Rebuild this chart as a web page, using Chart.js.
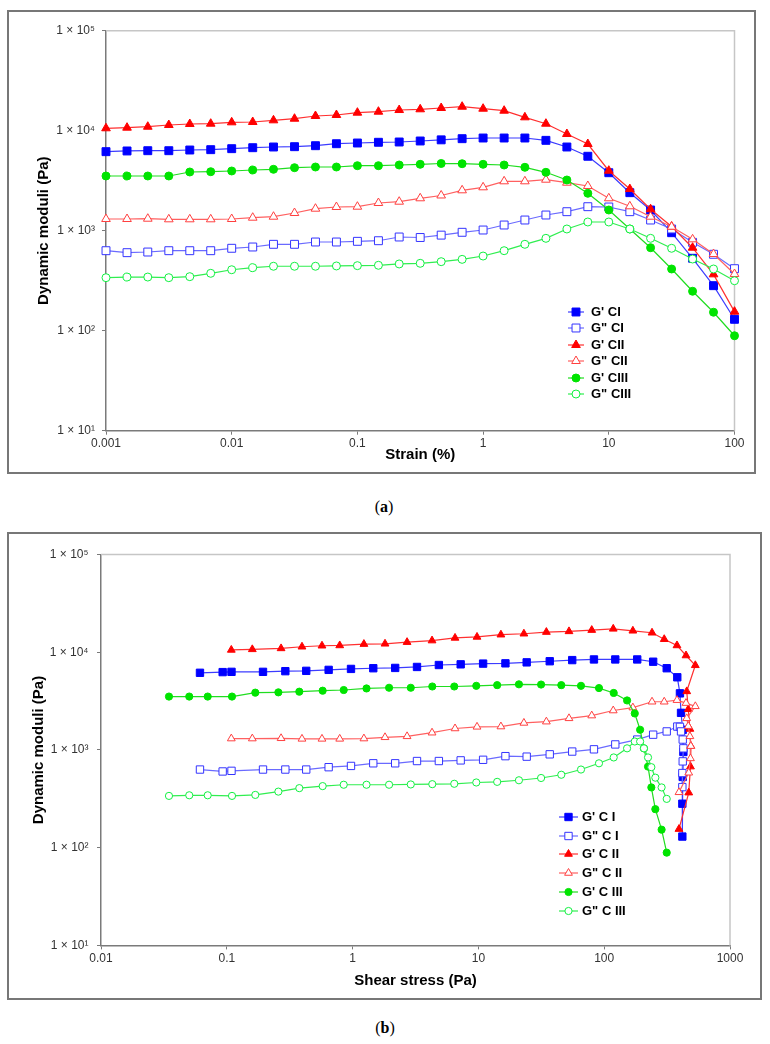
<!DOCTYPE html>
<html>
<head>
<meta charset="utf-8">
<script src="https://cdn.jsdelivr.net/npm/chart.js@4.4.1/dist/chart.umd.min.js"></script>
<style>
body{margin:0;background:#fff;width:770px;height:1044px;position:relative;overflow:hidden;font-family:"Liberation Sans",Arial,sans-serif}
.frame{position:absolute;border:2px solid #777;box-sizing:border-box}
canvas.chart{position:absolute;left:0}
.cap{position:absolute;font-family:"Liberation Serif","Times New Roman",serif;font-size:16px;transform:translate(-50%,-50%)}
.row{position:absolute;height:16px;white-space:nowrap}
.row canvas{position:absolute;left:0;top:0}
.row span{position:absolute;top:0;line-height:16px;font:bold 13px "Liberation Sans",Arial,sans-serif;color:#000}
</style>
</head>
<body>
<div class="frame" style="left:7px;top:10px;width:749px;height:464px"></div>
<div class="frame" style="left:7px;top:532px;width:755px;height:468px"></div>
<canvas id="chartA" class="chart" width="770" height="480" style="top:0"></canvas>
<canvas id="chartB" class="chart" width="770" height="490" style="top:520px"></canvas>
<div class="cap" style="left:384px;top:507px">(<b>a</b>)</div>
<div class="cap" style="left:385px;top:1028px">(<b>b</b>)</div>
<div id="legA"></div>
<div id="legB"></div>
<script>
// strain (%) for panel a, shear stress (Pa) for panel b
const strain = [0.001, 0.00147, 0.00215, 0.00316, 0.00464, 0.00681, 0.01, 0.0147, 0.0215, 0.0316, 0.0464, 0.0681,
  0.1, 0.147, 0.215, 0.316, 0.464, 0.681, 1, 1.47, 2.15, 3.16, 4.64, 6.81, 10, 14.7, 21.5, 31.6, 46.4, 68.1, 100];
const stressCI = [0.0612, 0.0927, 0.109, 0.194, 0.292, 0.428, 0.645, 0.971, 1.46, 2.18, 3.25, 4.85, 7.23, 10.9,
  16.4, 24.2, 36.9, 55.7, 82.9, 122.5, 183, 245, 314, 381, 400, 408, 421, 426, 421, 418, 418];
const stressCII = [0.1086, 0.1595, 0.270, 0.396, 0.571, 0.790, 1.23, 1.81, 2.71, 4.28, 6.52, 9.75, 15.1, 23.0,
  34.7, 52.5, 79.6, 118, 169, 240, 300, 379, 447, 530, 453, 466, 480, 488, 485, 470, 393];
const stressCIII = [0.0347, 0.0503, 0.0705, 0.110, 0.1685, 0.257, 0.377, 0.578, 0.850, 1.29, 1.95, 2.90, 4.30,
  6.43, 9.62, 14.1, 21.0, 31.5, 45.6, 65.4, 90.9, 119, 152, 175, 193, 207, 223, 237, 255, 286, 314];

// moduli (Pa)
const gpCI = [6170, 6270, 6310, 6310, 6410, 6460, 6610, 6760, 6870, 6920, 7080, 7410, 7530, 7660, 7710, 7890,
  8100, 8320, 8450, 8450, 8450, 8010, 6870, 5550, 3800, 2400, 1610, 955, 530, 282, 130];
const gppCI = [631, 603, 612, 631, 631, 631, 667, 687, 731, 731, 771, 771, 783, 794, 865, 855, 903, 964, 1016,
  1140, 1279, 1435, 1549, 1738, 1726, 1549, 1279, 1040, 765, 581, 417];
const gpCII = [10570, 10720, 10960, 11400, 11670, 11750, 12130, 12220, 12700, 13180, 14030, 14360, 15140, 15490,
  16100, 16370, 16870, 17380, 16600, 15850, 13610, 11750, 9270, 7360, 3980, 2610, 1640, 1100, 676, 366, 155];
const gppCII = [1309, 1309, 1318, 1300, 1300, 1300, 1309, 1349, 1380, 1503, 1660, 1726, 1738, 1892, 1950, 2109,
  2250, 2535, 2716, 3118, 3118, 3236, 3020, 2799, 2109, 1754, 1380, 1096, 820, 585, 369];
const gpCIII = [3524, 3524, 3524, 3524, 3864, 3890, 3954, 4046, 4111, 4266, 4335, 4335, 4467, 4467, 4539, 4613,
  4700, 4677, 4613, 4539, 4305, 3837, 3214, 2366, 1611, 1040, 676, 414, 248, 153, 89];
const gppCIII = [339, 344, 344, 339, 347, 375, 407, 427, 441, 441, 441, 444, 447, 451, 465, 472, 490, 517, 558,
  631, 731, 839, 1040, 1222, 1222, 1040, 839, 667, 521, 414, 316];

const namesA = ["G' CI", 'G" CI', "G' CII", 'G" CII', "G' CIII", 'G" CIII'];
const namesB = ["G' C I", 'G" C I', "G' C II", 'G" C II', "G' C III", 'G" C III'];

const xTicksA = [0.001, 0.01, 0.1, 1, 10, 100];
const xLabelsA = ['0.001', '0.01', '0.1', '1', '10', '100'];
const xTicksB = [0.01, 0.1, 1, 10, 100, 1000];
const xLabelsB = ['0.01', '0.1', '1', '10', '100', '1000'];
const yTicks = [10, 100, 1000, 10000, 100000];
const yLabels = ['1 × 10¹', '1 × 10²', '1 × 10³', '1 × 10⁴', '1 × 10⁵'];

const looks = [
  {style: 'rect', fill: '#0000ff', stroke: '#0000ff', line: '#3c3cff'},
  {style: 'rect', fill: '#ffffff', stroke: '#3434ff', line: '#6a6aff'},
  {style: 'triangle', fill: '#ff0000', stroke: '#ff0000', line: '#ff3030'},
  {style: 'triangle', fill: '#ffffff', stroke: '#ff4040', line: '#ff6060'},
  {style: 'circle', fill: '#00e400', stroke: '#00e400', line: '#20dd20'},
  {style: 'circle', fill: '#ffffff', stroke: '#10f040', line: '#30ee50'}
];

const FONT = '"Liberation Sans", Arial, sans-serif';

const frameLines = {
  id: 'frameLines',
  beforeDatasetsDraw(chart) {
    const a = chart.chartArea, c = chart.ctx;
    c.save();
    c.strokeStyle = '#c6c6c6';
    c.lineWidth = 1.5;
    c.beginPath();
    c.moveTo(a.left, a.top);
    c.lineTo(a.right, a.top);
    c.lineTo(a.right, a.bottom);
    c.stroke();
    c.restore();
  }
};

function makeSets(xsList, names, sizes) {
  const ys = [gpCI, gppCI, gpCII, gppCII, gpCIII, gppCIII];
  return ys.map((yv, i) => {
    const lk = looks[i];
    const xs = xsList[i];
    return {
      label: names[i],
      data: xs.map((x, j) => ({x: x, y: yv[j]})),
      borderColor: lk.line,
      borderWidth: 1.2,
      pointStyle: lk.style,
      pointRadius: sizes[lk.style],
      pointHoverRadius: sizes[lk.style],
      pointBackgroundColor: lk.fill,
      pointBorderColor: lk.stroke,
      pointBorderWidth: 1,
      tension: 0,
      clip: false,
      order: 5 - i
    };
  });
}

function makeChart(id, sets, g) {
  return new Chart(document.getElementById(id), {
    type: 'line',
    data: {datasets: sets},
    options: {
      responsive: false,
      animation: false,
      devicePixelRatio: 1,
      layout: {padding: {left: 0, top: g.top, right: 770 - g.right, bottom: 0}},
      plugins: {legend: {display: false}, tooltip: {enabled: false}},
      scales: {
        x: {
          type: 'logarithmic', position: 'bottom', min: g.xTicks[0], max: g.xTicks[g.xTicks.length - 1],
          afterFit(s) { s.height = g.h - g.bottom; },
          afterBuildTicks(s) { s.ticks = g.xTicks.map(v => ({value: v})); },
          ticks: {
            autoSkip: false, maxRotation: 0, padding: g.xTickPad, color: '#333',
            font: {family: FONT, size: 12},
            callback: v => { const k = g.xTicks.indexOf(v); return k < 0 ? '' : g.xLabels[k]; }
          },
          grid: {drawOnChartArea: false, tickLength: 4, color: '#7a7a7a'},
          border: {color: '#7a7a7a', width: 1.5},
          title: {display: true, text: g.xTitle, color: '#000', font: {family: FONT, size: 15, weight: 'bold'},
            padding: {top: 0, bottom: g.xTitlePad}}
        },
        y: {
          type: 'logarithmic', position: 'left', min: 10, max: 100000,
          afterFit(s) { s.width = g.left; },
          afterBuildTicks(s) { s.ticks = yTicks.map(v => ({value: v})); },
          ticks: {
            autoSkip: false, padding: g.yTickPad, color: '#333',
            font: {family: FONT, size: 12},
            callback: v => { const k = yTicks.indexOf(v); return k < 0 ? '' : yLabels[k]; }
          },
          grid: {drawOnChartArea: false, tickLength: 4, color: '#7a7a7a'},
          border: {color: '#7a7a7a', width: 1.5},
          title: {display: true, text: 'Dynamic moduli (Pa)', color: '#000', font: {family: FONT, size: 15, weight: 'bold'},
            padding: {top: g.yTitlePad, bottom: 0}}
        }
      }
    },
    plugins: [frameLines]
  });
}

function drawMark(ctx, style, x, y, r, fill, stroke) {
  ctx.beginPath();
  if (style === 'rect') {
    const s = r * Math.SQRT1_2;
    ctx.rect(x - s, y - s, 2 * s, 2 * s);
  } else if (style === 'triangle') {
    for (let k = 0; k < 3; k++) {
      const a = k * 2 * Math.PI / 3;
      const px = x + Math.sin(a) * r, py = y - Math.cos(a) * r;
      if (k) ctx.lineTo(px, py); else ctx.moveTo(px, py);
    }
    ctx.closePath();
  } else {
    ctx.arc(x, y, r, 0, 2 * Math.PI);
  }
  ctx.fillStyle = fill;
  ctx.fill();
  ctx.lineWidth = 1;
  ctx.strokeStyle = stroke;
  ctx.stroke();
}

function buildLegend(elId, sets, lg) {
  const el = document.getElementById(elId);
  sets.forEach((ds, i) => {
    const row = document.createElement('div');
    row.className = 'row';
    const left = lg.lineStart - 2;
    row.style.left = left + 'px';
    row.style.top = (lg.y0 + i * lg.dy - 8) + 'px';
    const cv = document.createElement('canvas');
    cv.width = lg.lineEnd - lg.lineStart + 4;
    cv.height = 16;
    const c = cv.getContext('2d');
    c.strokeStyle = ds.borderColor;
    c.lineWidth = 1.2;
    c.beginPath();
    c.moveTo(2, 8);
    c.lineTo(2 + lg.lineEnd - lg.lineStart, 8);
    c.stroke();
    drawMark(c, ds.pointStyle, lg.markX - left, 8, ds.pointRadius, ds.pointBackgroundColor, ds.pointBorderColor);
    const sp = document.createElement('span');
    sp.textContent = ds.label;
    sp.style.left = (lg.textX - left) + 'px';
    row.appendChild(cv);
    row.appendChild(sp);
    el.appendChild(row);
  });
}

const setsA = makeSets([strain, strain, strain, strain, strain, strain], namesA, {rect: 5.6, circle: 4, triangle: 5});
const setsB = makeSets([stressCI, stressCI, stressCII, stressCII, stressCIII, stressCIII], namesB, {rect: 5.2, circle: 3.6, triangle: 4.5});

makeChart('chartA', setsA, {
  left: 106, right: 734.5, top: 30.7, bottom: 430.7, h: 480,
  xTicks: xTicksA, xLabels: xLabelsA, xTitle: 'Strain (%)',
  xTickPad: 2, xTitlePad: 16, yTickPad: 7, yTitlePad: 35
});
makeChart('chartB', setsB, {
  left: 101, right: 730, top: 34.6, bottom: 425.4, h: 490,
  xTicks: xTicksB, xLabels: xLabelsB, xTitle: 'Shear stress (Pa)',
  xTickPad: 2.4, xTitlePad: 20.3, yTickPad: 8.5, yTitlePad: 30.3
});

buildLegend('legA', setsA, {lineStart: 568, lineEnd: 584, markX: 576, textX: 591, y0: 311.7, dy: 16.45});
buildLegend('legB', setsB, {lineStart: 559, lineEnd: 578, markX: 568.5, textX: 582, y0: 816.7, dy: 18.8});
</script>
</body>
</html>
